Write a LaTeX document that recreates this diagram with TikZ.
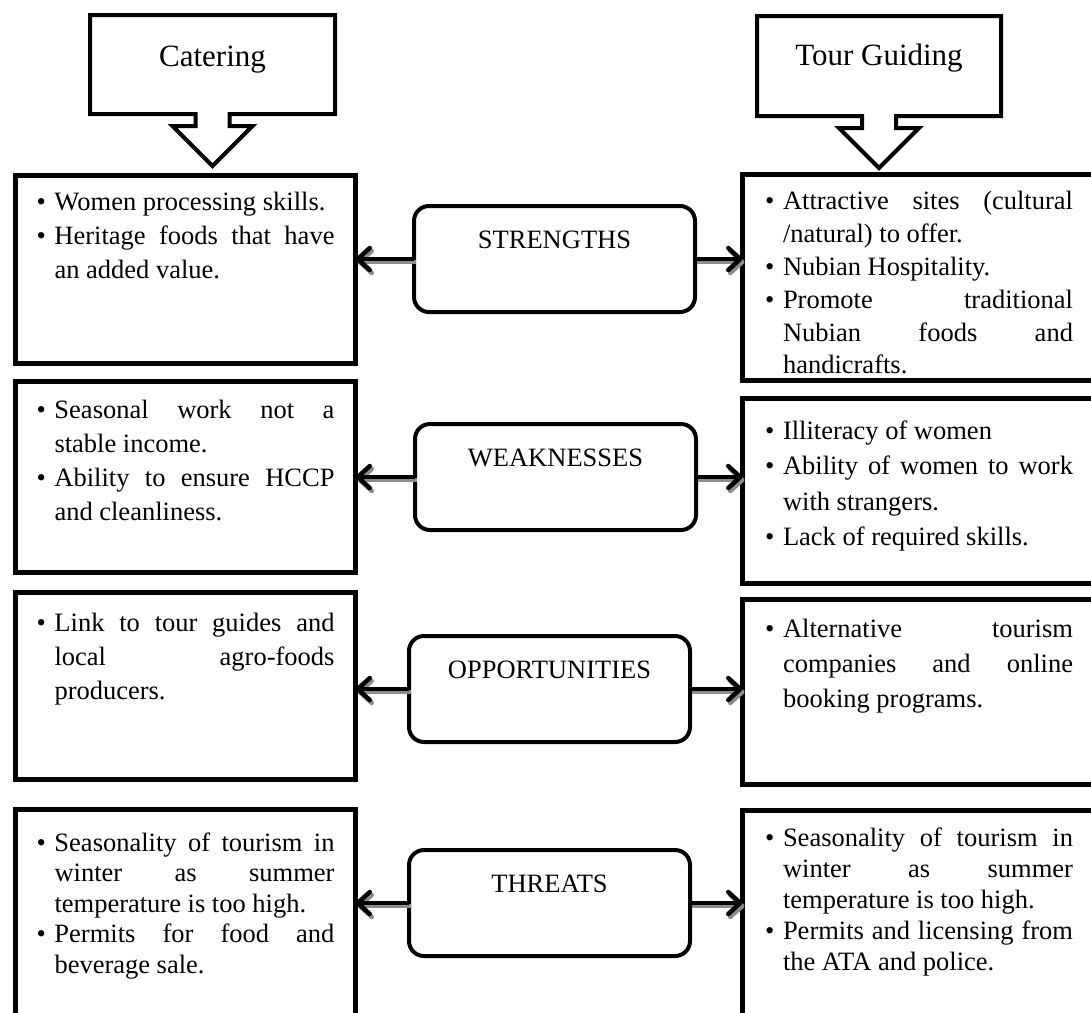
\documentclass[tikz,border=0pt]{standalone}
\usepackage{fontspec}
\setmainfont{Liberation Serif}
\usetikzlibrary{arrows.meta,shapes.arrows}

% bullet item with hanging indent
\newcommand{\itm}{\par\noindent\hangindent=18pt\hangafter=1\makebox[18pt][l]{\textbullet}}
\newcommand{\cellsetup}[1]{\fontsize{26.5}{#1}\selectfont\hyphenpenalty=10000\exhyphenpenalty=10000\tolerance=10000}
\newcommand{\lcell}[3][34]{\parbox[c][#2][t]{298pt}{\cellsetup{#1}#3}}
\newcommand{\rcell}[3][34]{\parbox[c][#2][t]{360pt}{\parbox[t]{308pt}{\cellsetup{#1}#3}}}

\begin{document}
\begin{tikzpicture}[
  x=1pt, y=-1pt,
  every node/.style={font=\fontsize{26.5}{34}\selectfont},
  callout/.style={draw, line width=4pt, arrow box, arrow box arrows={south:52pt from border},
                  arrow box shaft width=34pt, arrow box head extend=23pt,
                  inner sep=0pt, outer sep=0pt, font=\fontsize{31}{36}\selectfont},
  panel/.style={draw, line width=5pt, inner ysep=17pt, outer sep=0pt, anchor=north west},
  lpanel/.style={panel, inner xsep=21pt},
  rpanel/.style={panel, inner xsep=22.5pt},
  hub/.style={draw, line width=4pt, rounded corners=15pt, minimum width=281pt,
              inner sep=0pt, outer sep=0pt, text height=42pt, text depth=64pt},
  arr/.style={line width=4.5pt, -{Straight Barb[length=12pt, width=22pt, line width=4.5pt, round]}},
  arrshadow/.style={arr, draw=black!45, transform canvas={shift={(2pt,-3pt)}}}
]
\useasboundingbox (0,0) rectangle (1091,1012);
\clip (0,0) rectangle (1091,1012);
% two headings with down arrows
\node[callout, minimum width=245pt, minimum height=99pt, text height=51pt, text depth=48pt] (catering) at (212.5,64.5) {Catering};
\node[callout, minimum width=244pt, minimum height=100pt, text height=49pt, text depth=51pt] (guiding) at (879,66) {Tour Guiding};
% left column: catering
\node[lpanel] (cat1) at (15.5,175.5) {\lcell{154pt}{\itm Women processing skills.
  \itm Heritage foods that have\linebreak an added value.}};
\node[lpanel] (cat2) at (15.5,381.5) {\lcell{157pt}{\vspace*{2pt}\itm Seasonal work not a\linebreak stable income.
  \itm Ability to ensure HCCP\linebreak and cleanliness.}};
\node[lpanel] (cat3) at (15.5,592.5) {\lcell{153pt}{\vspace*{4pt}\itm Link to tour guides and\linebreak local agro-foods\linebreak producers.}};
\node[lpanel] (cat4) at (15.5,809.5) {\lcell[30.5]{200pt}{\vspace*{6pt}\itm Seasonality of tourism in\linebreak winter as summer\linebreak temperature is too high.
  \itm Permits for food and\linebreak beverage sale.}};
% right column: tour guiding
\node[rpanel] (tour1) at (742.5,174.5) {\rcell[32.8]{172pt}{\itm Attractive sites (cultural\linebreak /natural) to offer.
  \itm Nubian Hospitality.
  \itm Promote traditional\linebreak Nubian foods and\linebreak handicrafts.}};
\node[rpanel] (tour2) at (742.5,398.5) {\rcell[35.5]{151pt}{\vspace*{5pt}\itm Illiteracy of women
  \itm Ability of women to work\linebreak with strangers.
  \itm Lack of required skills.}};
\node[rpanel] (tour3) at (742.5,599.5) {\rcell[35]{151pt}{\vspace*{3pt}\itm Alternative tourism\linebreak companies and online\linebreak booking programs.}};
\node[rpanel] (tour4) at (742.5,810.5) {\rcell[31]{200pt}{\itm Seasonality of tourism in\linebreak winter as summer\linebreak temperature is too high.
  \itm Permits and licensing from\linebreak the ATA and police.}};
% SWOT labels in the middle
\node[hub] (str) at (554.5,259) {STRENGTHS};
\node[hub] (weak) at (555.5,477) {WEAKNESSES};
\node[hub] (opp) at (549.5,689) {OPPORTUNITIES};
\node[hub] (thr) at (549.5,903) {THREATS};
% arrows out to both sides, shadow first
\draw[arrshadow] (str.west) -- (str.west -| cat1.east);
\draw[arr] (str.west) -- (str.west -| cat1.east);
\draw[arrshadow] (str.east) -- (str.east -| tour1.west);
\draw[arr] (str.east) -- (str.east -| tour1.west);
\draw[arrshadow] (weak.west) -- (weak.west -| cat2.east);
\draw[arr] (weak.west) -- (weak.west -| cat2.east);
\draw[arrshadow] (weak.east) -- (weak.east -| tour2.west);
\draw[arr] (weak.east) -- (weak.east -| tour2.west);
\draw[arrshadow] (opp.west) -- (opp.west -| cat3.east);
\draw[arr] (opp.west) -- (opp.west -| cat3.east);
\draw[arrshadow] (opp.east) -- (opp.east -| tour3.west);
\draw[arr] (opp.east) -- (opp.east -| tour3.west);
\draw[arrshadow] (thr.west) -- (thr.west -| cat4.east);
\draw[arr] (thr.west) -- (thr.west -| cat4.east);
\draw[arrshadow] (thr.east) -- (thr.east -| tour4.west);
\draw[arr] (thr.east) -- (thr.east -| tour4.west);
\end{tikzpicture}
\end{document}
